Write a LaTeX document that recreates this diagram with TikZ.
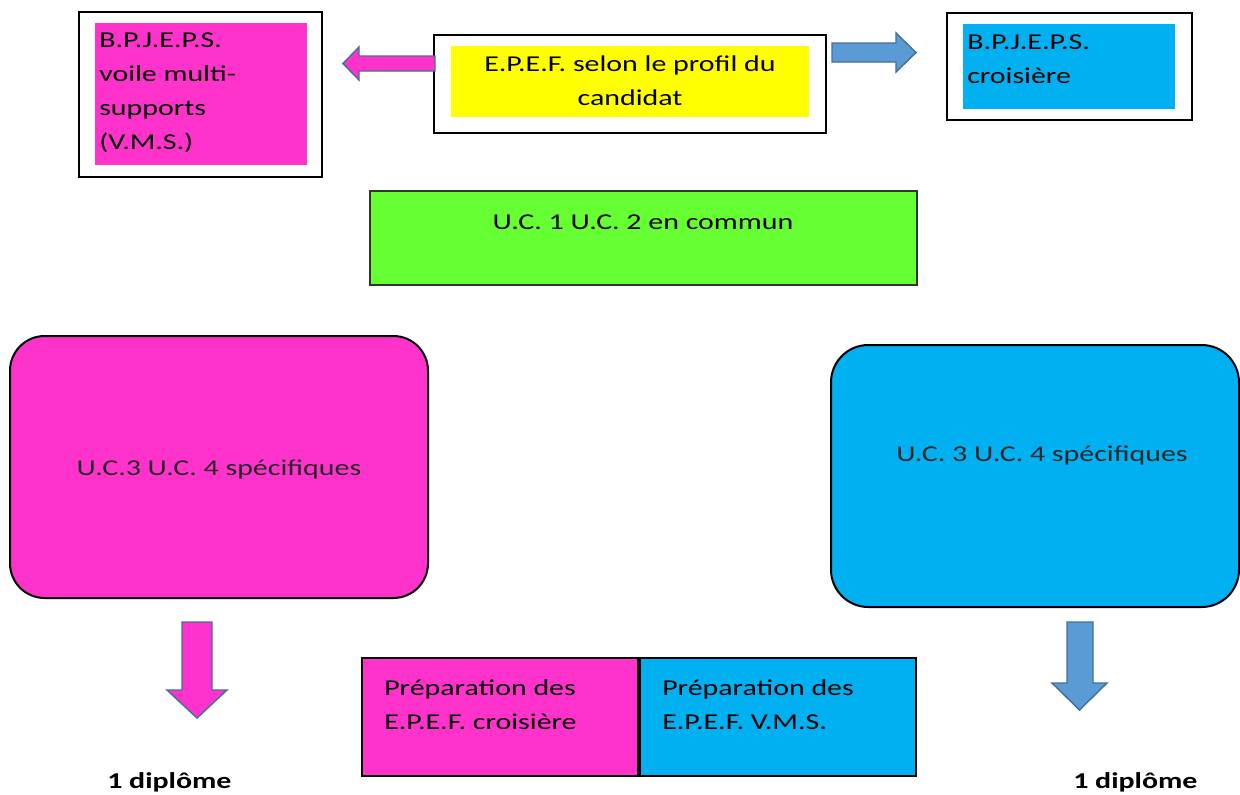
\documentclass[tikz,border=0pt]{standalone}
\usepackage{fontspec}
\setmainfont{Carlito}[FakeStretch=1.32]
\definecolor{vmspink}{HTML}{FF33CC}
\definecolor{crblue}{HTML}{00B0F0}
\definecolor{epefyellow}{HTML}{FFFF00}
\definecolor{ucgreen}{HTML}{66FF33}
\definecolor{arrowblue}{HTML}{5B9BD5}
\definecolor{arrowline}{HTML}{41719C}
\newcommand\pxl{0.75pt}
\tikzset{
  frame/.style={draw=black, line width=1.5pt, inner sep=0pt},
  fillbox/.style={inner sep=0pt, draw=none},
  txt/.style={inner sep=0pt, font=\fontsize{17}{25.5}\selectfont, align=left},
  blockarrow/.style={draw=arrowline, line width=1.1pt, line join=miter},
}
\begin{document}
\begin{tikzpicture}[x=0.75pt,y=-0.75pt]
%%
\fill[white] (0,0) rectangle (1240,794);
\useasboundingbox (0,0) rectangle (1240,794);
% top row
\node (vmsframe) at (200.5,94.5) [frame, minimum width=243*\pxl, minimum height=165*\pxl] {};
  \node (vmsfill) at (201,94) [fillbox, fill=vmspink, minimum width=212*\pxl, minimum height=142*\pxl] {};
  \node (vmstext) at (99,33) [txt, anchor=north west] {B.P.J.E.P.S.\\voile multi-\\supports\\(V.M.S.)};
\node (epefframe) at (630,84) [frame, minimum width=392*\pxl, minimum height=98*\pxl] {};
  \node (epeffill) at (630,81.5) [fillbox, fill=epefyellow, minimum width=358*\pxl, minimum height=71*\pxl] {};
  \node (epeftext) at (630,55) [txt, align=center, anchor=north] {E.P.E.F. selon le profil du\\candidat};
\node (croisframe) at (1069.5,66.5) [frame, minimum width=245*\pxl, minimum height=107*\pxl] {};
  \node (croisfill) at (1069,66.5) [fillbox, fill=crblue, minimum width=212*\pxl, minimum height=85*\pxl] {};
  \node (croistext) at (967,35) [txt, anchor=north west] {B.P.J.E.P.S.\\croisière};
% tronc commun
\node (ucommun) at (643.5,238) [draw=black!80, line width=1pt, fill=ucgreen, minimum width=547*\pxl, minimum height=94*\pxl] {};
  \node (ucommuntext) at (643,229) [txt, anchor=base] {U.C. 1 U.C. 2 en commun};
% parties specifiques
\node (vmsspec) at (219,467) [frame, fill=vmspink, rounded corners=26pt, minimum width=418*\pxl, minimum height=262*\pxl] {};
  \node (vmsspectext) at (219,475) [txt, anchor=base, text=black!85] {U.C.3 U.C. 4 spécifiques};
\node (croisspec) at (1035,476) [frame, fill=crblue, rounded corners=28pt, minimum width=408*\pxl, minimum height=262*\pxl] {};
  \node (croisspectext) at (1042,461) [txt, anchor=base, text=black!85] {U.C. 3 U.C. 4 spécifiques};
% preparation
\node (prepcrois) at (500,717) [frame, fill=vmspink, minimum width=276*\pxl, minimum height=118*\pxl] {};
  \node (prepcroistext) at (384,679) [txt, anchor=north west] {Préparation des\\E.P.E.F. croisière};
\node (prepvms) at (778,717) [frame, fill=crblue, minimum width=276*\pxl, minimum height=118*\pxl] {};
  \node (prepvmstext) at (662,679) [txt, anchor=north west] {Préparation des\\E.P.E.F. V.M.S.};
% diplomes
\node (diplvms) at (107,788) [txt, anchor=base west, font=\bfseries\fontsize{17}{25.5}\selectfont] {1 diplôme};
\node (diplcrois) at (1073,788) [txt, anchor=base west, font=\bfseries\fontsize{17}{25.5}\selectfont] {1 diplôme};
% fleches
\draw [blockarrow, fill=vmspink] (435,56) -- (359,56) -- (359,47) -- (343,63.5) -- (359,80) -- (359,71) -- (435,71) -- cycle;
\draw [blockarrow, fill=arrowblue] (832,43) -- (896,43) -- (896,33) -- (916,52.5) -- (896,72) -- (896,62) -- (832,62) -- cycle;
\draw [blockarrow, fill=vmspink] (182,622) -- (212,622) -- (212,690) -- (227,690) -- (197,718) -- (167,690) -- (182,690) -- cycle;
\draw [blockarrow, fill=arrowblue] (1067,622) -- (1093,622) -- (1093,683) -- (1107,683) -- (1079.5,710) -- (1052,683) -- (1067,683) -- cycle;
%
\end{tikzpicture}
\end{document}
